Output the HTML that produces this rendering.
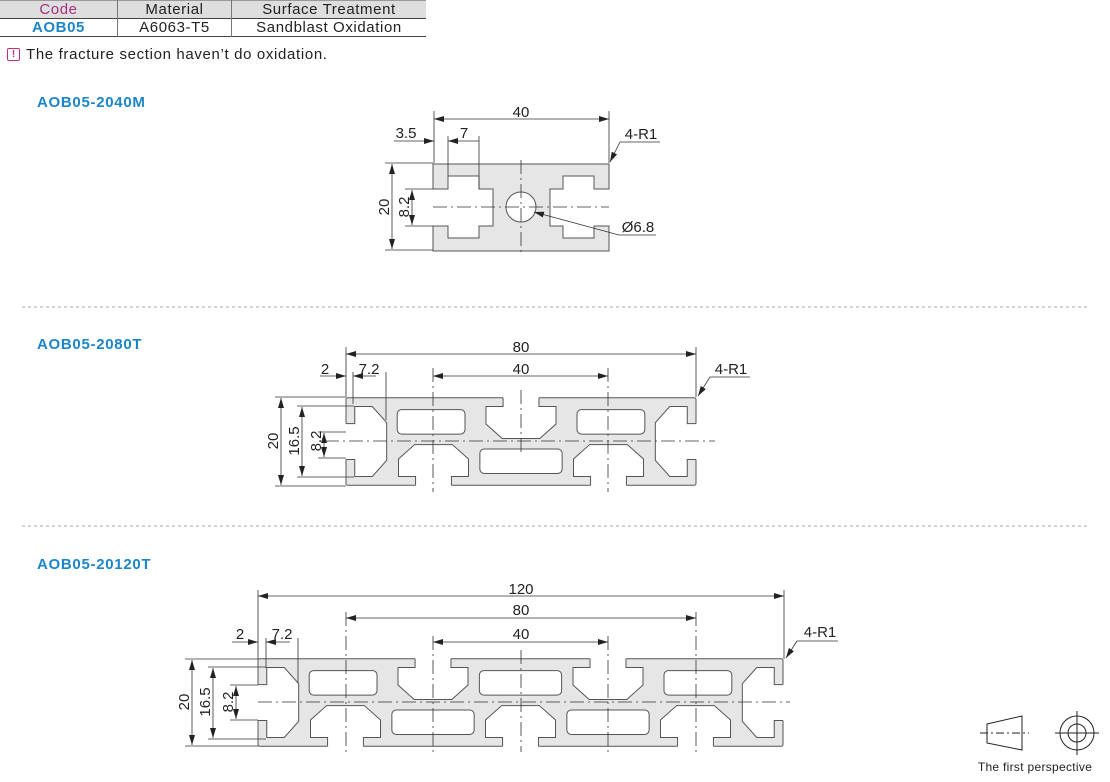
<!DOCTYPE html>
<html><head><meta charset="utf-8"><style>
html,body{margin:0;padding:0;background:#fff;}
body{width:1110px;height:782px;overflow:hidden;position:relative;font-family:"Liberation Sans",Arial,sans-serif;}
table{position:absolute;left:0;top:0;border-collapse:collapse;font-size:15px;letter-spacing:0.6px;}
td{height:17px;padding:0;text-align:center;line-height:17px;}
.lbl{position:absolute;left:37px;font-weight:bold;color:#1b86c8;font-size:15px;letter-spacing:0.7px;}
</style></head><body>
<table>
<tr style="background:#dedede;border-top:1px solid #999;border-bottom:1px solid #444;">
<td style="width:117px;color:#a0327f;border-right:1px solid #777;">Code</td>
<td style="width:113px;color:#222;border-right:1px solid #777;">Material</td>
<td style="width:194px;color:#222;">Surface Treatment</td></tr>
<tr style="border-bottom:1px solid #444;">
<td style="color:#1b86c8;font-weight:bold;border-right:1px solid #777;">AOB05</td>
<td style="color:#222;border-right:1px solid #777;">A6063-T5</td>
<td style="color:#222;">Sandblast Oxidation</td></tr>
</table>
<div style="position:absolute;left:7px;top:48px;width:11px;height:11px;border:1px solid #c0307a;border-radius:2px;color:#c0307a;font-size:10px;line-height:11px;text-align:center;font-weight:bold;">!</div>
<div style="position:absolute;left:26px;top:46px;font-size:15px;letter-spacing:0.65px;color:#222;">The fracture section haven’t do oxidation.</div>
<div class="lbl" style="top:94px;">AOB05-2040M</div>
<div class="lbl" style="top:336px;">AOB05-2080T</div>
<div class="lbl" style="top:556px;">AOB05-20120T</div>

<svg width="1110" height="782" style="position:absolute;left:0;top:0" font-family="Liberation Sans, Arial, sans-serif" font-size="15" fill="#222">
<defs>
<marker id="a" viewBox="0 0 10 6" refX="10" refY="3" markerWidth="10" markerHeight="6" orient="auto-start-reverse" markerUnits="userSpaceOnUse"><path d="M0,0 L10,3 L0,6 Z" fill="#222"/></marker>
<g id="slot">
<polygon points="-4.1,-10.6 -4.1,-8 -8,-8 -8,-4 -4.3,-0.7 4.3,-0.7 8,-4 8,-8 4.1,-8 4.1,-10.6" fill="#fff" stroke="none"/>
<polyline points="-4.1,-10 -4.1,-8 -8,-8 -8,-4 -4.3,-0.7 4.3,-0.7 8,-4 8,-8 4.1,-8 4.1,-10" fill="none" stroke="#555" stroke-width="1" vector-effect="non-scaling-stroke"/>
</g>
</defs>

<line x1="22" y1="307" x2="1088" y2="307" stroke="#aaa" stroke-dasharray="3,3"/>
<line x1="22" y1="526" x2="1088" y2="526" stroke="#aaa" stroke-dasharray="3,3"/>

<!-- 2040M -->
<path d="M433,164 H609 V189 H594 V176 H563 V189 H550 V226 H563 V238 H594 V226 H609 V251 H433 V226 H448 V238 H479 V226 H493 V189 H479 V176 H448 V189 H433 Z" fill="#e6e6e6" stroke="#555"/>
<circle cx="521" cy="207" r="15" fill="#fff" stroke="#555"/>
<g stroke="#333" stroke-width="0.8" fill="none">
<line x1="433" y1="207" x2="609" y2="207" stroke-dasharray="14,4,2,4"/>
<line x1="521" y1="160" x2="521" y2="255" stroke-dasharray="14,4,2,4"/>
<line x1="434" y1="111" x2="434" y2="163"/><line x1="609" y1="111" x2="609" y2="163"/>
<line x1="434" y1="119" x2="609" y2="119" marker-start="url(#a)" marker-end="url(#a)"/>
<line x1="448" y1="136" x2="448" y2="176"/><line x1="479" y1="136" x2="479" y2="189"/>
<line x1="394" y1="141" x2="434" y2="141" marker-end="url(#a)"/>
<line x1="479" y1="141" x2="448" y2="141" marker-end="url(#a)"/>
<line x1="385" y1="163" x2="433" y2="163"/><line x1="385" y1="250" x2="433" y2="250"/>
<line x1="392" y1="164" x2="392" y2="249" marker-start="url(#a)" marker-end="url(#a)"/>
<line x1="405" y1="189" x2="433" y2="189"/><line x1="405" y1="226" x2="433" y2="226"/>
<line x1="412" y1="190" x2="412" y2="225" marker-start="url(#a)" marker-end="url(#a)"/>
<polyline points="656,235 619,235 534,212" marker-end="url(#a)"/>
<polyline points="660,142 620,142 610,162" marker-end="url(#a)"/>
</g>
<text x="521" y="117" text-anchor="middle">40</text>
<text x="406" y="138" text-anchor="middle">3.5</text>
<text x="464" y="138" text-anchor="middle">7</text>
<text x="641" y="139" text-anchor="middle">4-R1</text>
<text x="638" y="232" text-anchor="middle">Ø6.8</text>
<text transform="translate(389,207) rotate(-90)" text-anchor="middle">20</text>
<text transform="translate(409,207) rotate(-90)" text-anchor="middle">8.2</text>

<!-- 2080T -->
<g transform="translate(346,441.5) scale(4.375)">
<rect x="0" y="-10" width="80" height="20" rx="0.4" fill="#e6e6e6" stroke="#555" stroke-width="1" vector-effect="non-scaling-stroke"/>
<use href="#slot" transform="translate(40,0)"/>
<use href="#slot" transform="translate(20,0) scale(1,-1)"/>
<use href="#slot" transform="translate(60,0) scale(1,-1)"/>
<use href="#slot" transform="translate(10,0) rotate(-90)"/>
<use href="#slot" transform="translate(70,0) rotate(90)"/>
<g fill="#fff" stroke="#555" stroke-width="1">
<rect x="11.7" y="-7.3" width="15.5" height="5.6" rx="1" vector-effect="non-scaling-stroke"/>
<rect x="52.8" y="-7.3" width="15.5" height="5.6" rx="1" vector-effect="non-scaling-stroke"/>
<rect x="30.6" y="1.7" width="18.8" height="5.6" rx="1" vector-effect="non-scaling-stroke"/>
</g></g>
<g stroke="#333" stroke-width="0.8" fill="none">
<line x1="325" y1="441" x2="715" y2="441" stroke-dasharray="14,4,2,4"/>
<line x1="433" y1="368" x2="433" y2="492" stroke-dasharray="14,4,2,4"/>
<line x1="608" y1="368" x2="608" y2="492" stroke-dasharray="14,4,2,4"/>
<line x1="521" y1="390" x2="521" y2="452" stroke-dasharray="14,4,2,4"/>
<line x1="346" y1="347" x2="346" y2="397"/><line x1="696" y1="347" x2="696" y2="397"/>
<line x1="346" y1="354" x2="696" y2="354" marker-start="url(#a)" marker-end="url(#a)"/>
<line x1="433" y1="376" x2="608" y2="376" marker-start="url(#a)" marker-end="url(#a)"/>
<line x1="320" y1="376" x2="346" y2="376" marker-end="url(#a)"/>
<line x1="353" y1="372" x2="353" y2="404"/>
<line x1="386" y1="372" x2="386" y2="420"/>
<line x1="376" y1="376" x2="353" y2="376" marker-end="url(#a)"/>
<line x1="275" y1="397" x2="346" y2="397"/><line x1="275" y1="486" x2="346" y2="486"/>
<line x1="281" y1="398" x2="281" y2="485" marker-start="url(#a)" marker-end="url(#a)"/>
<line x1="297" y1="406" x2="354" y2="406"/><line x1="297" y1="477" x2="354" y2="477"/>
<line x1="302" y1="407" x2="302" y2="476" marker-start="url(#a)" marker-end="url(#a)"/>
<line x1="318" y1="432" x2="346" y2="432"/><line x1="318" y1="458" x2="346" y2="458"/>
<line x1="324" y1="433" x2="324" y2="457" marker-start="url(#a)" marker-end="url(#a)"/>
<polyline points="750,377 710,377 698,396" marker-end="url(#a)"/>
</g>
<text x="521" y="352" text-anchor="middle">80</text>
<text x="521" y="374" text-anchor="middle">40</text>
<text x="325" y="374" text-anchor="middle">2</text>
<text x="369" y="374" text-anchor="middle">7.2</text>
<text x="731" y="374" text-anchor="middle">4-R1</text>
<text transform="translate(278,441) rotate(-90)" text-anchor="middle">20</text>
<text transform="translate(299,441) rotate(-90)" text-anchor="middle">16.5</text>
<text transform="translate(321,441) rotate(-90)" text-anchor="middle">8.2</text>

<!-- 20120T -->
<g transform="translate(258,702.5) scale(4.375)">
<rect x="0" y="-10" width="120" height="20" rx="0.4" fill="#e6e6e6" stroke="#555" stroke-width="1" vector-effect="non-scaling-stroke"/>
<use href="#slot" transform="translate(40,0)"/>
<use href="#slot" transform="translate(80,0)"/>
<use href="#slot" transform="translate(20,0) scale(1,-1)"/>
<use href="#slot" transform="translate(60,0) scale(1,-1)"/>
<use href="#slot" transform="translate(100,0) scale(1,-1)"/>
<use href="#slot" transform="translate(10,0) rotate(-90)"/>
<use href="#slot" transform="translate(110,0) rotate(90)"/>
<g fill="#fff" stroke="#555" stroke-width="1">
<rect x="11.7" y="-7.3" width="15.5" height="5.6" rx="1" vector-effect="non-scaling-stroke"/>
<rect x="50.6" y="-7.3" width="18.8" height="5.6" rx="1" vector-effect="non-scaling-stroke"/>
<rect x="92.8" y="-7.3" width="15.5" height="5.6" rx="1" vector-effect="non-scaling-stroke"/>
<rect x="30.6" y="1.7" width="18.8" height="5.6" rx="1" vector-effect="non-scaling-stroke"/>
<rect x="70.6" y="1.7" width="18.8" height="5.6" rx="1" vector-effect="non-scaling-stroke"/>
</g></g>
<g stroke="#333" stroke-width="0.8" fill="none">
<line x1="258" y1="702" x2="790" y2="702" stroke-dasharray="14,4,2,4"/>
<line x1="346" y1="612" x2="346" y2="752" stroke-dasharray="14,4,2,4"/>
<line x1="433" y1="636" x2="433" y2="752" stroke-dasharray="14,4,2,4"/>
<line x1="521" y1="650" x2="521" y2="752" stroke-dasharray="14,4,2,4"/>
<line x1="608" y1="636" x2="608" y2="752" stroke-dasharray="14,4,2,4"/>
<line x1="696" y1="612" x2="696" y2="752" stroke-dasharray="14,4,2,4"/>
<line x1="258" y1="590" x2="258" y2="659"/><line x1="784" y1="590" x2="784" y2="659"/>
<line x1="258" y1="596" x2="784" y2="596" marker-start="url(#a)" marker-end="url(#a)"/>
<line x1="346" y1="618" x2="696" y2="618" marker-start="url(#a)" marker-end="url(#a)"/>
<line x1="433" y1="642" x2="608" y2="642" marker-start="url(#a)" marker-end="url(#a)"/>
<line x1="232" y1="642" x2="258" y2="642" marker-end="url(#a)"/>
<line x1="266" y1="638" x2="266" y2="668"/>
<line x1="298" y1="638" x2="298" y2="683"/>
<line x1="290" y1="642" x2="266" y2="642" marker-end="url(#a)"/>
<line x1="185" y1="659" x2="258" y2="659"/><line x1="185" y1="746" x2="258" y2="746"/>
<line x1="192" y1="660" x2="192" y2="745" marker-start="url(#a)" marker-end="url(#a)"/>
<line x1="208" y1="667" x2="266" y2="667"/><line x1="208" y1="739" x2="266" y2="739"/>
<line x1="213" y1="668" x2="213" y2="738" marker-start="url(#a)" marker-end="url(#a)"/>
<line x1="230" y1="685" x2="258" y2="685"/><line x1="230" y1="720" x2="258" y2="720"/>
<line x1="236" y1="686" x2="236" y2="719" marker-start="url(#a)" marker-end="url(#a)"/>
<polyline points="838,641 797,641 786,658" marker-end="url(#a)"/>
</g>
<text x="521" y="594" text-anchor="middle">120</text>
<text x="521" y="615" text-anchor="middle">80</text>
<text x="521" y="639" text-anchor="middle">40</text>
<text x="240" y="639" text-anchor="middle">2</text>
<text x="282" y="639" text-anchor="middle">7.2</text>
<text x="820" y="637" text-anchor="middle">4-R1</text>
<text transform="translate(189,702) rotate(-90)" text-anchor="middle">20</text>
<text transform="translate(210,702) rotate(-90)" text-anchor="middle">16.5</text>
<text transform="translate(233,702) rotate(-90)" text-anchor="middle">8.2</text>

<g stroke="#222" stroke-width="1" fill="none">
<polygon points="987,724 1022,716 1022,750 987,743"/>
<line x1="980" y1="733" x2="1029" y2="733" stroke-dasharray="8,3,2,3"/>
<circle cx="1077" cy="733" r="17"/><circle cx="1077" cy="733" r="9"/>
<line x1="1055" y1="733" x2="1099" y2="733"/><line x1="1077" y1="711" x2="1077" y2="755"/>
</g>
<text x="1035" y="771" text-anchor="middle" font-size="12" letter-spacing="0.3">The first perspective</text>
</svg>
</body></html>
